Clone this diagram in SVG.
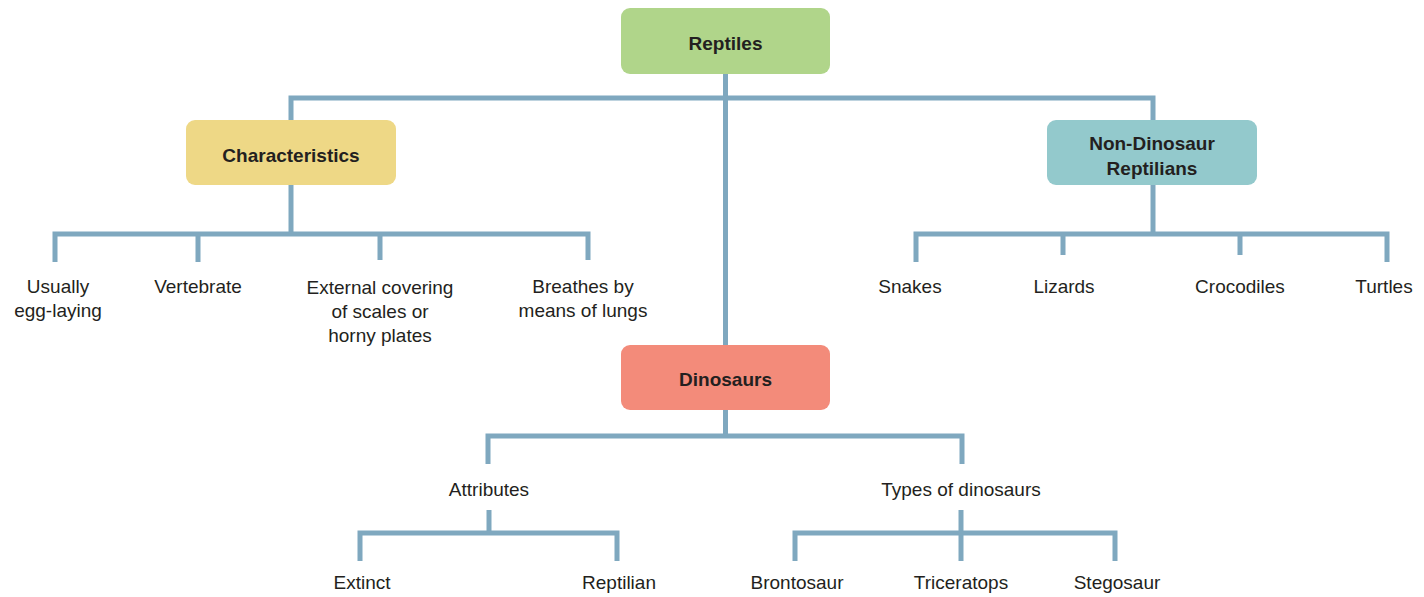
<svg xmlns="http://www.w3.org/2000/svg" width="1424" height="597" viewBox="0 0 1424 597">
<style>
.c{fill:none;stroke:#7fa8bf;stroke-width:5}
.t{font-family:"Liberation Sans",Arial,sans-serif;font-size:19px;fill:#231f20;text-anchor:middle}
.b{font-family:"Liberation Sans",Arial,sans-serif;font-size:19px;font-weight:bold;fill:#231f20;text-anchor:middle}
</style>
<rect width="1424" height="597" fill="#ffffff"/>
<g id="connectors" class="c">
<path d="M725.5 74V345"/>
<path d="M291 161V98H1153V161"/>
<path d="M291 185V234"/>
<path d="M55 262V234H588V260M198 234V262M380 234V260"/>
<path d="M1153 185V234"/>
<path d="M916 262V234H1387V262M1063 234V255M1240 234V255"/>
<path d="M725.5 410V436"/>
<path d="M488 464V436H962V464"/>
<path d="M489 510V533"/>
<path d="M360 561V533H617V561"/>
<path d="M961 510V561"/>
<path d="M795 561V533H1115V561"/>
</g>
<g id="reptiles"><rect x="621" y="8" width="209" height="66" rx="9" fill="#b0d58a"/><text class="b" x="725.5" y="50">Reptiles</text></g>
<g id="characteristics"><rect x="186" y="120" width="210" height="65" rx="9" fill="#eed886"/><text class="b" x="291" y="162">Characteristics</text></g>
<g id="nondino"><rect x="1047" y="120" width="210" height="65" rx="9" fill="#93c9cc"/><text class="b" x="1152" y="150">Non-Dinosaur</text><text class="b" x="1152" y="175">Reptilians</text></g>
<g id="dinosaurs"><rect x="621" y="345" width="209" height="65" rx="9" fill="#f38b7a"/><text class="b" x="725.5" y="386">Dinosaurs</text></g>
<g id="usually"><text class="t" x="58" y="293">Usually</text><text class="t" x="58" y="317">egg-laying</text></g>
<g id="vertebrate"><text class="t" x="198" y="293">Vertebrate</text></g>
<g id="external"><text class="t" x="380" y="294">External covering</text><text class="t" x="380" y="318">of scales or</text><text class="t" x="380" y="342">horny plates</text></g>
<g id="breathes"><text class="t" x="583" y="293">Breathes by</text><text class="t" x="583" y="317">means of lungs</text></g>
<g id="snakes"><text class="t" x="910" y="293">Snakes</text></g>
<g id="lizards"><text class="t" x="1064" y="293">Lizards</text></g>
<g id="crocodiles"><text class="t" x="1240" y="293">Crocodiles</text></g>
<g id="turtles"><text class="t" x="1384" y="293">Turtles</text></g>
<g id="attributes"><text class="t" x="489" y="496">Attributes</text></g>
<g id="types"><text class="t" x="961" y="496">Types of dinosaurs</text></g>
<g id="extinct"><text class="t" x="362" y="589">Extinct</text></g>
<g id="reptilian"><text class="t" x="619" y="589">Reptilian</text></g>
<g id="brontosaur"><text class="t" x="797" y="589">Brontosaur</text></g>
<g id="triceratops"><text class="t" x="961" y="589">Triceratops</text></g>
<g id="stegosaur"><text class="t" x="1117" y="589">Stegosaur</text></g>
</svg>
